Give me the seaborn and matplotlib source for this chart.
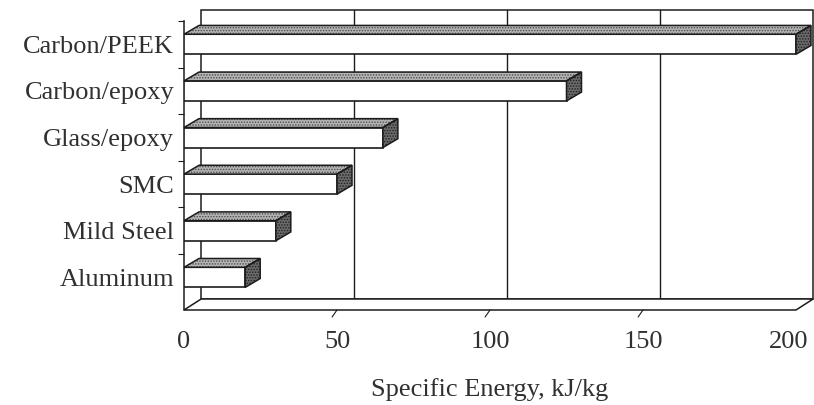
import numpy as np
import pandas as pd
import matplotlib
matplotlib.use("Agg")
import matplotlib.pyplot as plt
from matplotlib.patches import Polygon
from matplotlib.transforms import ScaledTranslation
import seaborn as sns

materials = ["Carbon/PEEK", "Carbon/epoxy", "Glass/epoxy", "SMC", "Mild Steel", "Aluminum"]
specific_energy = [200, 125, 65, 50, 30, 20]
x_ticks = [0, 50, 100, 150, 200]
x_label = "Specific Energy, kJ/kg"

sns.set_theme(style="ticks")
plt.rcParams["font.family"] = ["Liberation Serif", "DejaVu Serif"]
plt.rcParams["hatch.linewidth"] = 0.7

df = pd.DataFrame({"material": materials, "energy": specific_energy})

INK = "#1c1c1c"
TEXT = "#303030"
BAR_W = 0.43
# oblique depth of the chart box and of the bars (data units)
WALL_DX, WALL_DY = 5.6, 0.236
BAR_DX, BAR_DY = 4.9, 0.19
X_MAX = x_ticks[-1]
Y_TOP, Y_BOT = -0.5, 5.7

fig = plt.figure(figsize=(8.14, 4.05), dpi=100)
ax = fig.add_axes([184 / 814, (405 - 310) / 405, 612 / 814, 289 / 405])

# back wall with its vertical gridlines
wall = Polygon([(WALL_DX, Y_TOP - WALL_DY), (X_MAX + WALL_DX, Y_TOP - WALL_DY),
                (X_MAX + WALL_DX, Y_BOT - WALL_DY), (WALL_DX, Y_BOT - WALL_DY)],
               closed=True, facecolor="white", edgecolor=INK, lw=1.1,
               clip_on=False, zorder=0.5)
ax.add_patch(wall)
for v in x_ticks[1:-1]:
    ax.plot([v + WALL_DX, v + WALL_DX], [Y_TOP - WALL_DY, Y_BOT - WALL_DY],
            color=INK, lw=1.0, clip_on=False, zorder=0.6)

# floor
floor = Polygon([(0, Y_BOT), (X_MAX, Y_BOT), (X_MAX + WALL_DX, Y_BOT - WALL_DY),
                 (WALL_DX, Y_BOT - WALL_DY)],
                closed=True, facecolor="white", edgecolor=INK, lw=1.1,
                clip_on=False, zorder=0.7)
ax.add_patch(floor)
for v in x_ticks[1:-1]:
    ax.plot([v, v - 1.6], [Y_BOT, Y_BOT + 0.15], color=INK, lw=0.8,
            clip_on=False, zorder=0.8)

# front faces of the bars
sns.barplot(data=df, x="energy", y="material", orient="h", color="white",
            saturation=1, edgecolor=INK, linewidth=1.2, width=BAR_W, ax=ax,
            zorder=3)

# top and side faces of each bar
for bar in ax.containers[0]:
    x0, y0 = bar.get_x(), bar.get_y()
    w, h = bar.get_width(), bar.get_height()
    x1 = x0 + w
    yt = min(y0, y0 + h)
    yb = max(y0, y0 + h)
    top = [(x0, yt), (x1, yt), (x1 + BAR_DX, yt - BAR_DY), (x0 + BAR_DX, yt - BAR_DY)]
    side = [(x1, yt), (x1, yb), (x1 + BAR_DX, yb - BAR_DY), (x1 + BAR_DX, yt - BAR_DY)]
    ax.add_patch(Polygon(top, closed=True, facecolor="#b4b4b4", edgecolor="#4a4a4a",
                         hatch="......", lw=0, clip_on=False, zorder=3.1))
    ax.add_patch(Polygon(side, closed=True, facecolor="#6a6a6a", edgecolor="#202020",
                         hatch="......", lw=0, clip_on=False, zorder=3.1))
    for pts in (top, side):
        ax.add_patch(Polygon(pts, closed=True, facecolor="none", edgecolor=INK,
                             lw=1.1, clip_on=False, zorder=3.2))

ax.set_xlim(0, X_MAX)
ax.set_ylim(Y_BOT, Y_TOP)
ax.set_xticks(x_ticks)
ax.set_yticks(np.arange(-0.5, 5.0, 1.0), minor=True)

for side in ("top", "right", "bottom"):
    ax.spines[side].set_visible(False)
ax.spines["left"].set_color(INK)
ax.spines["left"].set_linewidth(1.1)

ax.tick_params(axis="x", which="major", length=0, pad=15, labelsize=19,
               labelcolor=TEXT)
ax.tick_params(axis="y", which="major", length=0, pad=7, labelsize=19,
               labelcolor=TEXT)
ax.tick_params(axis="y", which="minor", left=True, length=4, width=0.8,
               color=INK, direction="out")

# keep the last value label inside the figure edge
last = ax.get_xticklabels()[-1]
last.set_transform(last.get_transform() + ScaledTranslation(-5 / 72, 0, fig.dpi_scale_trans))

ax.set_ylabel("")
ax.set_xlabel(x_label, fontsize=19, color=TEXT, labelpad=18)

fig.savefig("out.png", dpi=100)
